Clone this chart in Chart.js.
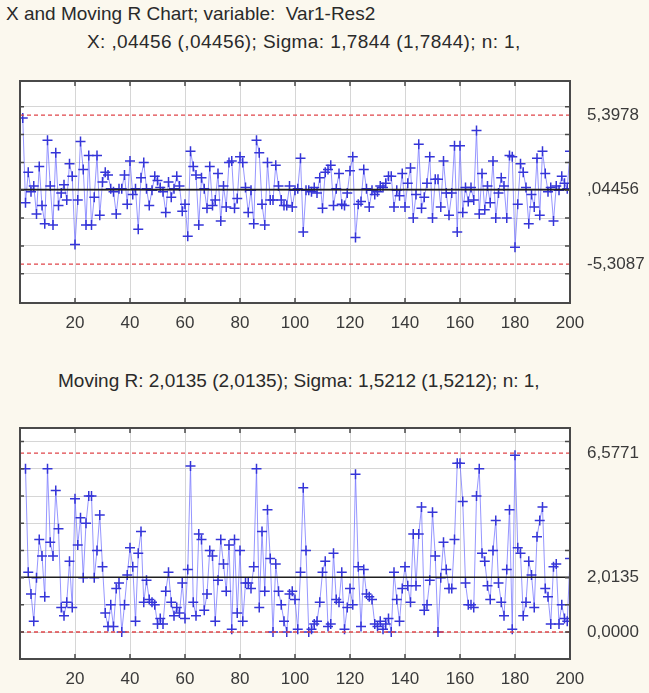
<!DOCTYPE html>
<html lang="en"><head><meta charset="UTF-8">
<title>X and Moving R Chart</title>
<script src="https://cdn.jsdelivr.net/npm/chart.js@4.4.1/dist/chart.umd.min.js"></script>
<style>
*{box-sizing:border-box;margin:0;padding:0;}
body{width:649px;height:693px;background:#fbf8ee;font-family:'Liberation Sans',Arial,sans-serif;color:#2a2a2a;position:relative;overflow:hidden;}
.t{position:absolute;white-space:nowrap;font-size:19px;line-height:22px;}
.cv{position:absolute;left:0;}
</style></head>
<body>
<div class="t" style="left:6px;top:3px;">X and Moving R Chart; variable:&nbsp; Var1-Res2</div>
<div class="t" style="left:87px;top:31px;letter-spacing:0.4px;">X: ,04456 (,04456); Sigma: 1,7844 (1,7844); n: 1,</div>
<div class="t" style="left:58px;top:370px;">Moving R: 2,0135 (2,0135); Sigma: 1,5212 (1,5212); n: 1,</div>
<div class="cv" style="top:70px;width:649px;height:265px;"><canvas id="xChart"></canvas></div>
<div class="cv" style="top:420px;width:649px;height:273px;"><canvas id="mrChart"></canvas></div>
<script>
// X chart: individual values, samples 1..200
const xValues = [
  5.2,-0.9,1.3,-0.1,0.3,-1.7,1.7,-1.1,-2.4,3.6,
  0.3,-2.5,2.7,-1.1,-0.2,0.4,-0.7,1.9,1.0,-3.9,
  -0.7,3.5,1.5,-2.5,2.5,-2.5,-0.5,2.5,-1.8,0.6,
  1.3,1.1,0.1,-0.1,-1.7,0.1,0.1,1.1,-1.0,2.1,
  -0.3,0.1,-2.8,0.9,2.0,0.1,-1.1,0.0,1.0,0.7,
  0.2,-0.1,-1.6,0.6,-0.5,0.1,1.0,0.3,-1.5,-1.0,
  -3.3,2.8,1.7,1.1,-2.5,0.9,0.1,-1.3,1.7,-1.1,
  -0.7,1.2,-2.2,0.3,-1.2,2.0,2.1,-1.3,-0.6,2.4,
  2.0,0.2,-1.6,0.0,-2.4,3.6,2.7,-1.0,-2.5,2.0,
  -0.7,-0.7,1.8,0.3,-0.7,-1.1,-1.1,0.3,-1.2,0.0,
  0.1,2.3,-3.0,0.0,0.0,-0.1,0.2,-0.2,0.9,-1.3,
  1.3,1.5,1.8,-1.1,0.1,1.2,-1.0,-1.1,-0.2,1.4,
  2.4,-3.4,-1.0,-0.8,1.5,0.1,-1.2,0.0,-0.3,-0.1,
  0.3,0.2,0.5,1.0,1.0,-1.2,0.0,-0.4,1.2,-1.2,
  0.5,1.6,-2.0,-0.3,3.3,-1.3,-0.5,0.5,2.4,-2.0,
  0.8,0.8,-1.2,2.1,-0.2,-1.8,-0.2,3.2,-3.0,3.2,
  -1.6,0.2,-0.8,0.2,-0.7,4.3,-1.7,1.2,-1.4,0.3,
  -0.9,2.1,-2.0,-0.2,0.9,0.3,-2.0,2.5,2.4,-4.1,
  -1.0,1.9,1.3,0.2,-2.4,-0.3,-1.2,2.3,-1.8,2.8,
  1.2,-0.1,0.2,-2.2,0.3,0.0,1.0,0.5,0.1,2.8
];
// Moving R: samples 2..200
const mrValues = [
  6.0,2.2,1.4,0.4,2.0,3.4,2.8,1.3,6.0,
  3.3,2.8,5.2,3.8,0.9,0.6,1.1,2.6,0.9,4.9,
  3.2,4.2,2.0,4.0,5.0,5.0,2.0,3.0,4.3,2.4,
  0.7,0.2,1.0,0.2,1.6,1.8,0.0,1.0,2.1,3.1,
  2.4,0.4,2.9,3.7,1.1,1.9,1.2,1.1,1.0,0.3,
  0.5,0.3,1.5,2.2,1.1,0.6,0.9,0.7,1.8,0.5,
  2.3,6.1,1.1,0.6,3.6,3.4,0.8,1.4,3.0,2.8,
  0.4,1.9,3.4,2.5,1.5,3.2,0.1,3.4,0.7,3.0,
  0.4,1.8,1.8,1.6,2.4,6.0,0.9,3.7,1.5,4.5,
  2.7,0.0,2.5,1.5,1.0,0.4,0.0,1.4,1.5,1.2,
  0.1,2.2,5.3,3.0,0.0,0.1,0.3,0.4,1.1,2.2,
  2.6,0.2,0.3,2.9,1.2,1.1,2.2,0.1,0.9,1.6,
  1.0,5.8,2.4,0.2,2.3,1.4,1.3,1.2,0.3,0.2,
  0.4,0.1,0.3,0.5,0.0,2.2,1.2,0.4,1.6,2.4,
  1.7,1.1,3.6,1.7,3.6,4.6,0.8,1.0,1.9,4.4,
  2.8,0.0,2.0,3.3,2.3,1.6,1.6,3.4,6.2,6.2,
  4.8,1.8,1.0,1.0,0.9,5.0,6.0,2.9,2.6,1.7,
  1.2,3.0,4.1,1.8,1.1,0.6,2.3,4.5,0.1,6.5,
  3.1,2.9,0.6,1.1,2.6,2.1,0.9,3.5,4.1,4.6,
  1.6,1.3,0.3,2.4,2.5,0.3,1.0,0.5,0.4,2.7
];
// control limits: LCL, centre, UCL
const xLimits = [-5.3087, 0.04456, 5.3978];
const xLimitLabels = ['-5,3087', ',04456', '5,3978'];
const mrLimits = [0, 2.0135, 6.5771];
const mrLimitLabels = ['0,0000', '2,0135', '6,5771'];
const sampleTicks = [20, 40, 60, 80, 100, 120, 140, 160, 180, 200];

const FONT = "'Liberation Sans', Arial, sans-serif";

const frame = {
  id: 'frame',
  beforeDraw(c) {
    const a = c.chartArea, ctx = c.ctx;
    ctx.save(); ctx.fillStyle = '#fff';
    ctx.fillRect(a.left, a.top, a.right - a.left, a.bottom - a.top);
    ctx.restore();
  },
  afterDraw(c) {
    const a = c.chartArea, ctx = c.ctx;
    ctx.save(); ctx.strokeStyle = '#4a4a4a'; ctx.lineWidth = 2;
    ctx.strokeRect(a.left, a.top, a.right - a.left, a.bottom - a.top);
    // short inward tick marks
    ctx.lineWidth = 1.5;
    const xs = c.scales.x, ys = c.scales.y;
    ctx.beginPath();
    xs.ticks.forEach(t => {
      const px = xs.getPixelForValue(t.value);
      ctx.moveTo(px, a.bottom); ctx.lineTo(px, a.bottom - 5);
      ctx.moveTo(px, a.top); ctx.lineTo(px, a.top + 5);
    });
    ys.ticks.forEach(t => {
      const py = ys.getPixelForValue(t.value);
      ctx.moveTo(a.right, py); ctx.lineTo(a.right - 5, py);
      ctx.moveTo(a.left, py); ctx.lineTo(a.left + 4, py);
    });
    ctx.stroke();
    ctx.restore();
  }
};

function noPad(s) { s.paddingTop = 0; s.paddingBottom = 0; s.paddingLeft = 0; s.paddingRight = 0; }

function hline(y, color, dash, w) {
  return { data: [{x: 0, y}, {x: 200, y}], borderColor: color, borderDash: dash,
           borderWidth: w, pointRadius: 0, fill: false };
}

function makeChart(id, values, firstX, limits, labels, yMin, yMax, yStep, padTop, axisH) {
  const pts = values.map((v, i) => ({x: i + firstX, y: v}));
  new Chart(document.getElementById(id), {
    type: 'line',
    data: { datasets: [
      hline(limits[1], '#1e1e1e', [], 1.6),
      hline(limits[2], '#e0454a', [4, 3], 1.4),
      hline(limits[0], '#e0454a', [4, 3], 1.4),
      { data: pts, borderColor: 'rgba(105,105,255,0.7)', borderWidth: 1, tension: 0,
        pointStyle: 'cross', pointRadius: 5, pointBorderColor: '#3535d8',
        pointBorderWidth: 1.5, fill: false }
    ]},
    options: {
      responsive: true, maintainAspectRatio: false, animation: false,
      layout: { padding: { left: 20, top: padTop, right: 0, bottom: 0 } },
      plugins: { legend: { display: false }, tooltip: { enabled: false } },
      scales: {
        x: { type: 'linear', min: 0, max: 200,
             afterBuildTicks: s => { s.ticks = [0].concat(sampleTicks).map(v => ({value: v})); },
             ticks: { callback: v => (v === 0 ? '' : v), color: '#3a3a3a', padding: 10,
                      font: { family: FONT, size: 17 }, maxRotation: 0 },
             grid: { color: '#d6d6d6', drawTicks: false },
             border: { display: false },
             afterFit: s => { noPad(s); s.height = axisH; } },
        y: { position: 'left', min: yMin, max: yMax,
             ticks: { display: false, stepSize: yStep },
             grid: { color: '#d6d6d6', drawTicks: false },
             border: { display: false },
             afterFit: s => { noPad(s); s.width = 0; } },
        y2: { position: 'right', min: yMin, max: yMax,
              afterBuildTicks: s => { s.ticks = limits.map(v => ({value: v})); },
              ticks: { callback: (v, i) => labels[i], color: '#3a3a3a', padding: 9,
                       font: { family: FONT, size: 17 } },
              grid: { display: false },
              border: { display: false },
              afterFit: s => { noPad(s); s.width = 79; } }
      }
    },
    plugins: [frame]
  });
}

makeChart('xChart', xValues, 1, xLimits, xLimitLabels, -8.1, 7.85, 2, 11, 32);
makeChart('mrChart', mrValues, 2, mrLimits, mrLimitLabels, -0.99, 7.5, 1, 8, 34);
</script>
</body></html>
